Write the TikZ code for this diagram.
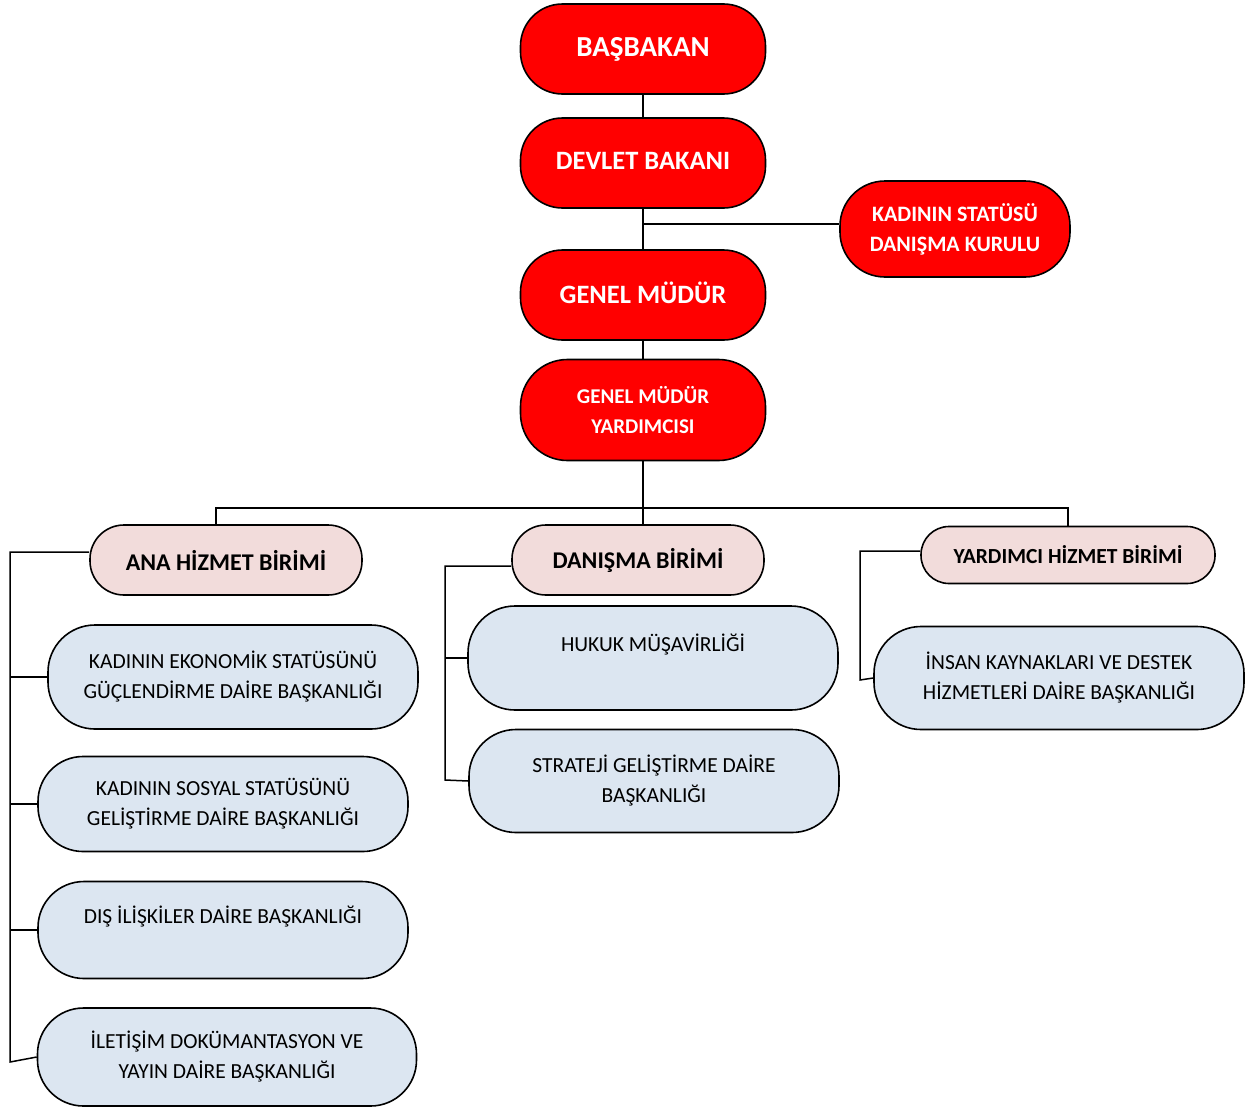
\documentclass[tikz,border=0pt]{standalone}
\usepackage{fontspec}
\setmainfont{Carlito}
\definecolor{pinkfill}{HTML}{F2DCDB}
\definecolor{bluefill}{HTML}{DCE6F1}
\tikzset{
  box/.style={draw,line width=1.6pt,rounded corners=42pt,align=center,inner sep=0pt},
  redbox/.style={box,fill=red,text=white,font=\bfseries},
  pinkbox/.style={box,fill=pinkfill,font=\bfseries\fontsize{24}{30}\selectfont,rounded corners=34pt},
  bluebox/.style={box,fill=bluefill,font=\fontsize{21.5}{30}\selectfont,rounded corners=47pt},
  link/.style={line width=1.5pt}
}
\begin{document}
\begin{tikzpicture}[x=1pt,y=-1pt]
    \useasboundingbox (0,0) rectangle (1249,1111);
    % top chain
    \node[redbox,minimum width=245pt,minimum height=90pt,font=\bfseries\fontsize{29}{32}\selectfont] (basbakan) at (643,49) {\raisebox{4pt}{BAŞBAKAN}};
    \node[redbox,minimum width=245pt,minimum height=90pt,font=\bfseries\fontsize{26.5}{32}\selectfont] (devlet) at (643,163) {\raisebox{5pt}{DEVLET BAKANI}};
    \node[redbox,minimum width=230pt,minimum height=96pt,rounded corners=45pt,font=\bfseries\fontsize{22}{30}\selectfont] (kurul) at (955,229) {KADININ STATÜSÜ\\DANIŞMA KURULU};
    \node[redbox,minimum width=245pt,minimum height=90pt,font=\bfseries\fontsize{26.5}{32}\selectfont] (genel) at (643,295) {\raisebox{5pt}{GENEL MÜDÜR}};
    \node[redbox,minimum width=245pt,minimum height=101pt,rounded corners=47pt,font=\bfseries\fontsize{21}{30}\selectfont] (yrd) at (643,410) {GENEL MÜDÜR\\YARDIMCISI};
    % units
    \node[pinkbox,minimum width=272pt,minimum height=70pt] (ana) at (226,560) {ANA HİZMET BİRİMİ};
    \node[pinkbox,minimum width=252pt,minimum height=70pt] (danisma) at (638,560) {DANIŞMA BİRİMİ};
    \node[pinkbox,minimum width=294pt,minimum height=57pt,rounded corners=28pt,font=\bfseries\fontsize{21.5}{30}\selectfont] (yardimci) at (1068,555) {YARDIMCI HİZMET BİRİMİ};
    % departments
    \node[bluebox,minimum width=370pt,minimum height=104pt] (eko) at (233,677) {KADININ EKONOMİK STATÜSÜNÜ\\GÜÇLENDİRME DAİRE BAŞKANLIĞI};
    \node[bluebox,minimum width=370pt,minimum height=95pt,rounded corners=45pt] (sosyal) at (223,804) {KADININ SOSYAL STATÜSÜNÜ\\GELİŞTİRME DAİRE BAŞKANLIĞI};
    \node[bluebox,minimum width=370pt,minimum height=97pt,rounded corners=46pt] (dis) at (223,930) {DIŞ İLİŞKİLER DAİRE BAŞKANLIĞI\\\mbox{}};
    \node[bluebox,minimum width=379pt,minimum height=98pt,rounded corners=46pt] (iletisim) at (227,1057) {İLETİŞİM DOKÜMANTASYON VE\\YAYIN DAİRE BAŞKANLIĞI};
    \node[bluebox,minimum width=370pt,minimum height=104pt] (hukuk) at (653,658) {HUKUK MÜŞAVİRLİĞİ\\\mbox{}};
    \node[bluebox,minimum width=370pt,minimum height=103pt] (strateji) at (654,781) {STRATEJİ GELİŞTİRME DAİRE\\BAŞKANLIĞI};
    \node[bluebox,minimum width=370pt,minimum height=103pt] (insan) at (1059,678) {İNSAN KAYNAKLARI VE DESTEK\\HİZMETLERİ DAİRE BAŞKANLIĞI};
    % helper points
    \coordinate (kj) at (643,224);
    \coordinate (bus) at (643,508);
    \coordinate (lbot) at (10,1062);
    \coordinate (mbot) at (445,780);
    \coordinate (rbot) at (860,680);
    % connectors
    \draw[link] (basbakan) -- (devlet);
    \draw[link] (devlet) -- (genel);
    \draw[link] (kj) -- (kj -| kurul.west);
    \draw[link] (genel) -- (yrd);
    \draw[link] (yrd.south) -- (yrd.south |- danisma.north);
    \draw[link] ([xshift=-10pt]ana.north) |- (bus) -| (yardimci.north);
    \draw[link] ([yshift=8pt]ana.west) -| (lbot) -- (iletisim.west);
    \draw[link] (eko.west) -- (eko.west -| lbot);
    \draw[link] (sosyal.west) -- (sosyal.west -| lbot);
    \draw[link] (dis.west) -- (dis.west -| lbot);
    \draw[link] ([yshift=-6pt]danisma.west) -| (mbot) -- (strateji.west);
    \draw[link] (hukuk.west) -- (hukuk.west -| mbot);
    \draw[link] ([yshift=4pt]yardimci.west) -| (rbot) -- (insan.west);
\end{tikzpicture}
\end{document}
